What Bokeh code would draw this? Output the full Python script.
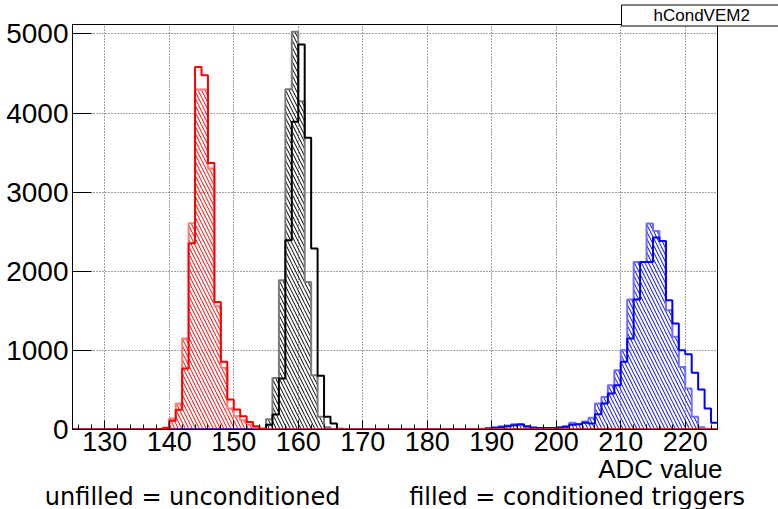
import numpy as np
from bokeh.plotting import figure
from bokeh.models import FixedTicker, Range1d, Title
from bokeh.embed import file_html
from bokeh.resources import INLINE

# ---------------- data ----------------
adc_lo = 125          # first bin edge (ADC)
adc_hi = 225          # last bin edge (ADC), bin width 1
x_ticks = [130, 140, 150, 160, 170, 180, 190, 200, 210, 220]
x_minor = [v for v in range(126, 225, 2)]
y_ticks = [0, 1000, 2000, 3000, 4000, 5000]
y_max = 5120

# red: unfilled = unconditioned, hatched = conditioned triggers (first bin = start)
red_unf_start = 138
red_unf = [5, 20, 110, 250, 771, 2355, 4584, 4479, 3370, 1613, 855, 379, 253, 168, 96, 42, 10]
red_hat_start = 138
red_hat = [5, 25, 139, 329, 1150, 2608, 4298, 4298, 3300, 1559, 780, 265, 168, 118, 60, 25, 5]

# black
blk_unf_start = 154
blk_unf = [5, 60, 190, 645, 2393, 3889, 4867, 3687, 2288, 678, 160, 76, 10]
blk_hat_start = 154
blk_hat = [10, 130, 650, 1887, 4302, 5027, 4150, 1866, 686, 160, 30, 5]

# blue
blu_unf_start = 188
blu_unf = [5, 13, 20, 30, 42, 55, 67, 42, 25, 20, 20, 20, 25, 34, 60, 67, 84, 76,
           193, 329, 455, 560, 855, 1150, 1643, 2119, 2119, 2427, 2384, 1635, 1340,
           1003, 952, 716, 506, 265, 84]
blu_hat_start = 188
blu_hat = [10, 20, 30, 40, 50, 67, 55, 30, 20, 15, 15, 20, 25, 40, 84, 67, 100, 150,
           329, 412, 560, 750, 1003, 1643, 2119, 2119, 2604, 2510, 2384, 1508, 1171,
           791, 518, 160, 30, 10]

title_text = "hCondVEM2"
x_title = "ADC value"
note_left = "unfilled = unconditioned"
note_right = "filled = conditioned triggers"

# ---------------- helpers ----------------
nbins = adc_hi - adc_lo
edges = np.arange(adc_lo, adc_hi + 1, 1.0)


def full(start, vals):
    arr = np.zeros(nbins)
    i0 = start - adc_lo
    arr[i0:i0 + len(vals)] = vals
    return arr


p = figure(width=778, height=509, output_backend="svg", toolbar_location=None,
           x_range=Range1d(adc_lo, adc_hi), y_range=Range1d(0, y_max),
           min_border_left=72, min_border_right=61, min_border_top=24,
           min_border_bottom=80)
p.background_fill_color = "white"
p.border_fill_color = "white"
p.outline_line_color = "black"
p.outline_line_width = 1

FONT = "Liberation Sans"

# axes
p.xaxis.ticker = FixedTicker(ticks=x_ticks, minor_ticks=x_minor)
p.yaxis.ticker = FixedTicker(ticks=y_ticks, minor_ticks=[])
for ax in (p.xaxis[0], p.yaxis[0]):
    ax.major_label_text_font = FONT
    ax.major_label_text_color = "black"
    ax.axis_line_color = "black"
    ax.major_tick_line_color = "black"
    ax.minor_tick_line_color = "black"
    ax.major_tick_out = 0
    ax.minor_tick_out = 0
p.xaxis.major_label_text_font_size = "27px"
p.yaxis.major_label_text_font_size = "28px"
p.xaxis.major_tick_in = 9
p.xaxis.minor_tick_in = 5
p.xaxis.major_label_standoff = 2
p.yaxis.major_tick_in = 19
p.yaxis.minor_tick_in = 0
p.yaxis.major_label_standoff = 4

# grid
for g in (p.xgrid[0], p.ygrid[0]):
    g.grid_line_color = "#444444"
    g.grid_line_dash = "1 2"
    g.grid_line_width = 1
p.xgrid.ticker = FixedTicker(ticks=x_ticks)
p.ygrid.ticker = FixedTicker(ticks=y_ticks)

series = [
    (blk_hat_start, blk_hat, blk_unf_start, blk_unf, "black", "#7a7a7a"),
    (blu_hat_start, blu_hat, blu_unf_start, blu_unf, "#0000ff", "#6f6fff"),
    (red_hat_start, red_hat, red_unf_start, red_unf, "#ff0000", "#ff7a7a"),
]

for hs, hv, us, uv, col, light in series:
    h = full(hs, hv)
    u = full(us, uv)
    p.quad(left=edges[:-1], right=edges[1:], top=h, bottom=0,
           fill_color=None, line_color=None,
           hatch_pattern="left_diagonal_line", hatch_color=col,
           hatch_scale=7, hatch_weight=1)
    p.step(x=edges, y=np.append(h, h[-1]), mode="after", line_color=light,
           line_width=2)
    p.step(x=edges, y=np.append(u, u[-1]), mode="after", line_color=col,
           line_width=2)

# texts as titles (side panels are not clipped)
t_box = Title(text=title_text, align="left", offset=549, standoff=-3,
              text_font=FONT, text_font_size="17px", text_font_style="normal",
              text_color="black", background_fill_color="white",
              border_line_color="black", border_line_width=1,
              padding=dict(left=32, right=31, top=1, bottom=1))
p.add_layout(t_box, "above")

t_adc = Title(text=x_title, align="right", offset=-5, standoff=-3,
              text_font=FONT, text_font_size="26px", text_font_style="normal",
              text_color="black")
p.add_layout(t_adc, "below")

gap = "\u00a0" * 9
t_notes = Title(text=note_left + gap + note_right, align="center", offset=0,
                standoff=-4, text_font="DejaVu Sans", text_font_size="24px",
                text_font_style="normal", text_color="black")
p.add_layout(t_notes, "below")

open("out.html", "w").write(file_html(p, INLINE))
